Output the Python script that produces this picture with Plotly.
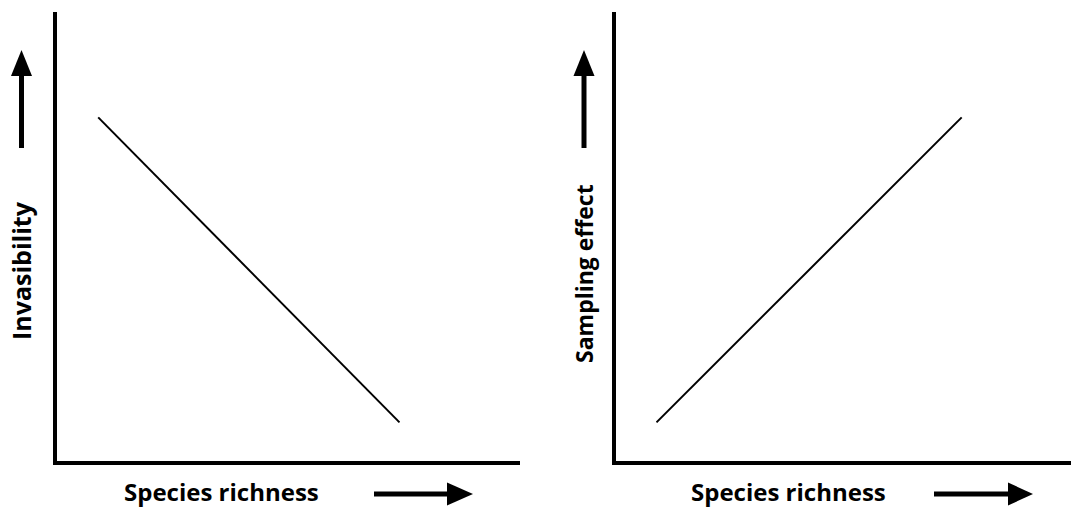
import plotly.graph_objects as go
from plotly.subplots import make_subplots

# conceptual chart: two panels, each a straight line
species_left = [0.9, 7.4]
invasibility = [7.65, 0.85]
species_right = [0.9, 7.6]
sampling_effect = [0.85, 7.65]

x_label = "Species richness"
y_labels = ["Invasibility", "Sampling effect"]

W, H = 1071, 510
FONT = "Open Sans"


def fx(px):
    return px / W


def fy(py):
    return 1 - py / H


fig = make_subplots(rows=1, cols=2)

fig.add_trace(go.Scatter(x=species_left, y=invasibility, mode="lines",
                         line=dict(color="black", width=2)), row=1, col=1)
fig.add_trace(go.Scatter(x=species_right, y=sampling_effect, mode="lines",
                         line=dict(color="black", width=2)), row=1, col=2)

axis_style = dict(range=[0, 10], showline=True, linecolor="black", linewidth=4,
                  showgrid=False, zeroline=False, showticklabels=False, ticks="")
fig.update_xaxes(**axis_style)
fig.update_yaxes(**axis_style)
fig.update_layout(
    xaxis=dict(domain=[fx(56.5), fx(520)]),
    xaxis2=dict(domain=[fx(615.5), 1.0]),
    yaxis=dict(domain=[fy(460.5), fy(12)]),
    yaxis2=dict(domain=[fy(460.5), fy(12)]),
)

shapes = []


def up_arrow(cx):
    shapes.append(dict(type="line", xref="paper", yref="paper",
                       x0=fx(cx), x1=fx(cx), y0=fy(148), y1=fy(74),
                       line=dict(color="black", width=5)))
    shapes.append(dict(type="path", xref="paper", yref="paper",
                       path="M %f,%f L %f,%f L %f,%f Z" % (
                           fx(cx - 10.5), fy(76), fx(cx + 10.5), fy(76), fx(cx), fy(50)),
                       fillcolor="black", line=dict(width=0)))


def right_arrow(x0, xh, xt, cy=494):
    shapes.append(dict(type="line", xref="paper", yref="paper",
                       x0=fx(x0), x1=fx(xh + 2), y0=fy(cy), y1=fy(cy),
                       line=dict(color="black", width=5)))
    shapes.append(dict(type="path", xref="paper", yref="paper",
                       path="M %f,%f L %f,%f L %f,%f Z" % (
                           fx(xh), fy(cy - 11.5), fx(xh), fy(cy + 11.5), fx(xt), fy(cy)),
                       fillcolor="black", line=dict(width=0)))


up_arrow(21.5)
up_arrow(584)
right_arrow(374, 447, 473)
right_arrow(934, 1008, 1033)


def label_font(size):
    return dict(family=FONT, size=size, color="black", weight="bold")


annotations = [
    dict(text=x_label, x=fx(221), y=0, xref="paper", yref="paper",
         showarrow=False, font=label_font(24), xanchor="center", yanchor="bottom"),
    dict(text=x_label, x=fx(788), y=0, xref="paper", yref="paper",
         showarrow=False, font=label_font(24), xanchor="center", yanchor="bottom"),
    dict(text=y_labels[0], x=fx(21), y=fy(271), xref="paper", yref="paper",
         showarrow=False, font=label_font(25), textangle=-90, xanchor="center", yanchor="middle"),
    dict(text=y_labels[1], x=fx(584), y=fy(274), xref="paper", yref="paper",
         showarrow=False, font=label_font(23), textangle=-90, xanchor="center", yanchor="middle"),
]

fig.update_layout(
    width=W, height=H,
    margin=dict(l=0, r=0, t=0, b=0),
    plot_bgcolor="white", paper_bgcolor="white",
    showlegend=False,
    shapes=shapes,
    annotations=annotations,
)

# page body has a default 8px margin; drop it so the figure fills the window
fig.write_html("out.html", config={"displayModeBar": False},
               post_script="document.body.style.margin='0';")
